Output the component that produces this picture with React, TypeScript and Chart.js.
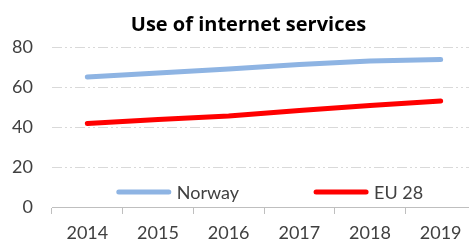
import React, { useEffect, useRef } from "react";
import { Chart, registerables } from "chart.js";

Chart.register(...registerables);

const title = "Use of internet services";
const years = ["2014", "2015", "2016", "2017", "2018", "2019"];
const norway = [65, 67, 69, 71.3, 73, 73.7];
const eu28 = [41.7, 43.7, 45.5, 48.2, 50.7, 53];
const yTicks = [0, 20, 40, 60, 80];

const FONT = "Lato, 'Liberation Sans', sans-serif";
const TITLE_FONT = "'Open Sans', 'Liberation Sans', sans-serif";

const titlePlugin = {
  id: "excelTitle",
  afterDraw(chart: any) {
    const { ctx } = chart;
    ctx.save();
    ctx.font = `bold 20px ${TITLE_FONT}`;
    ctx.fillStyle = "#000000";
    ctx.textAlign = "center";
    ctx.textBaseline = "alphabetic";
    ctx.fillText(title, chart.width / 2 + 10.5, 30.5);
    ctx.restore();
  },
};

const insideLegend = {
  id: "insideLegend",
  afterDatasetsDraw(chart: any) {
    const { ctx, chartArea } = chart;
    const ds = chart.data.datasets;
    ctx.save();
    ctx.font = `18px ${FONT}`;
    const sample = 54;
    const gapText = 6;
    const gapItem = 75;
    const widths = ds.map((d: any) => sample + gapText + ctx.measureText(d.label).width);
    const total = widths.reduce((a: number, b: number) => a + b, 0) + gapItem * (ds.length - 1);
    let x = (chartArea.left + chartArea.right) / 2 + 6 - total / 2;
    const y = chartArea.bottom - 15;
    ds.forEach((d: any, i: number) => {
      ctx.strokeStyle = d.borderColor;
      ctx.lineWidth = 5;
      ctx.lineCap = "round";
      ctx.beginPath();
      ctx.moveTo(x + 2, y);
      ctx.lineTo(x + sample - 2, y);
      ctx.stroke();
      ctx.fillStyle = "#404040";
      ctx.textBaseline = "middle";
      ctx.textAlign = "left";
      ctx.fillText(d.label, x + sample + gapText, y + 1);
      x += widths[i] + gapItem;
    });
    ctx.restore();
  },
};

export default function App() {
  const ref = useRef<HTMLCanvasElement>(null);
  useEffect(() => {
    document.body.style.margin = "0";
    document.body.style.overflow = "hidden";
    const chart = new Chart(ref.current!, {
      type: "line",
      data: {
        labels: years,
        datasets: [
          {
            label: "Norway",
            data: norway,
            borderColor: "#8eb4e3",
            borderWidth: 5,
            pointRadius: 0,
            borderCapStyle: "round",
            tension: 0,
          },
          {
            label: "EU 28",
            data: eu28,
            borderColor: "#ff0000",
            borderWidth: 5,
            pointRadius: 0,
            borderCapStyle: "round",
            tension: 0,
          },
        ],
      },
      options: {
        animation: false,
        responsive: false,
        devicePixelRatio: 1,
        layout: { padding: { top: 47, left: 0, right: 0, bottom: 0 } },
        plugins: {
          legend: { display: false },
          tooltip: { enabled: false },
          title: { display: false },
        },
        scales: {
          x: {
            offset: true,
            grid: {
              offset: true,
              drawOnChartArea: false,
              drawTicks: true,
              tickLength: 7,
              color: "#bfbfbf",
              lineWidth: 1,
            },
            border: { color: "#bfbfbf", width: 1 },
            ticks: {
              color: "#404040",
              font: { family: FONT, size: 18 },
              padding: 8,
              maxRotation: 0,
              autoSkip: false,
            },
            afterFit: (s: any) => {
              s.height = 34;
            },
          },
          y: {
            min: 0,
            max: 80,
            afterBuildTicks: (s: any) => {
              s.ticks = yTicks.map((v) => ({ value: v }));
            },
            grid: {
              color: (c: any) => (c.tick && c.tick.value === 0 ? "rgba(0,0,0,0)" : "#d9d9d9"),
              lineWidth: 1,
              drawTicks: false,
            },
            border: { display: false, dash: [10, 3, 2, 3, 2, 3] },
            ticks: {
              color: "#404040",
              font: { family: FONT, size: 18 },
              padding: 19,
            },
            afterFit: (s: any) => {
              s.width = 52;
            },
          },
        },
      },
      plugins: [titlePlugin, insideLegend],
    });
    return () => chart.destroy();
  }, []);
  return (
    <div style={{ position: "fixed", left: 0, top: 0, width: 469, height: 241, overflow: "hidden" }}>
      <canvas ref={ref} width={476} height={241} style={{ display: "block", width: 476, height: 241 }} />
    </div>
  );
}
